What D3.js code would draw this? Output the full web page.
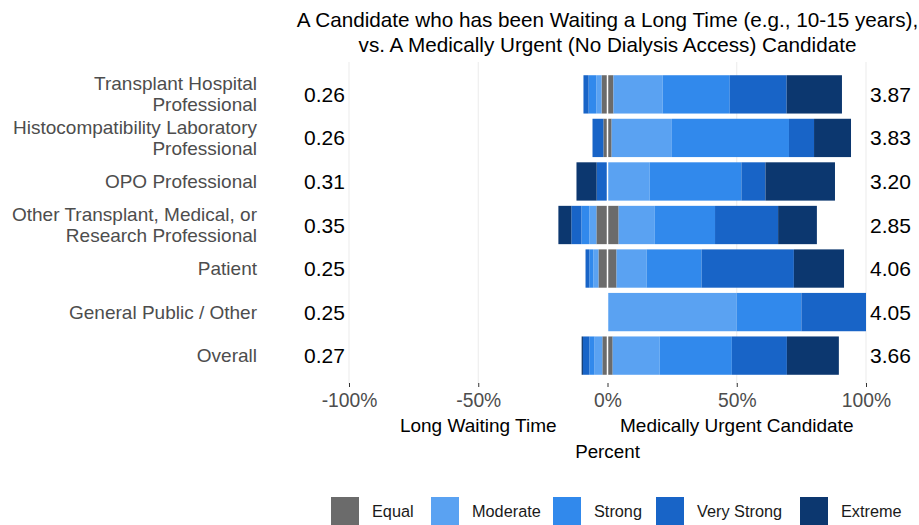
<!DOCTYPE html>
<html>
<head>
<meta charset="utf-8">
<script src="https://cdn.jsdelivr.net/npm/d3@7"></script>
<style>
  body { margin: 0; background: #fff; }
  text { font-family: "Liberation Sans", Arial, sans-serif; }
</style>
</head>
<body>
<div id="chart"></div>
<script>
// groups (top to bottom), two-line labels split with "|"
var groups = ["Transplant Hospital|Professional", "Histocompatibility Laboratory|Professional",
  "OPO Professional", "Other Transplant, Medical, or|Research Professional",
  "Patient", "General Public / Other", "Overall"];
var leftMean = ["0.26", "0.26", "0.31", "0.35", "0.25", "0.25", "0.27"];
var rightMean = ["3.87", "3.83", "3.20", "2.85", "4.06", "4.05", "3.66"];

var levels = ["Equal", "Moderate", "Strong", "Very Strong", "Extreme"];
var colors = ["#6b6b6b", "#5aa2f2", "#3189ec", "#1864c7", "#0c376f"];

// percent answering "Equal" (split half each side of 0)
var equal = [4.6, 3.2, 0, 8.6, 7.0, 0, 4.0];
// percent favouring the long waiting time candidate
var waitModerate = [2.0, 0, 0, 2.7, 2.0, 0, 3.0];
var waitStrong = [3.0, 0, 0, 3.1, 1.5, 0, 2.0];
var waitVeryStrong = [2.0, 4.2, 4.2, 3.9, 1.5, 0, 2.5];
var waitExtreme = [0, 0, 7.8, 5.0, 0, 0, 0.5];
// percent favouring the medically urgent candidate
var urgModerate = [19.0, 23.3, 16.3, 14.0, 11.6, 50, 18.2];
var urgStrong = [26.0, 45.3, 35.5, 23.3, 21.3, 25, 27.9];
var urgVeryStrong = [22.0, 9.7, 9.3, 24.4, 35.7, 25, 21.3];
var urgExtreme = [21.4, 14.3, 26.9, 15.0, 19.4, 0, 20.1];

var xTicks = [-100, -50, 0, 50, 100];

var W = 919, H = 525;
var svg = d3.select("#chart").append("svg")
  .attr("width", W).attr("height", H);

var x = d3.scaleLinear().domain([-100, 100]).range([349, 866]);
var y = d3.scaleBand().domain(d3.range(groups.length)).range([70, 380]).padding(0.12);

// build segments
var segs = [];
groups.forEach(function(g, i) {
  var left = [equal[i] / 2, waitModerate[i], waitStrong[i], waitVeryStrong[i], waitExtreme[i]];
  var right = [equal[i] / 2, urgModerate[i], urgStrong[i], urgVeryStrong[i], urgExtreme[i]];
  var acc = 0;
  left.forEach(function(v, k) {
    if (v > 0) segs.push({row: i, k: k, x0: -(acc + v), x1: -acc});
    acc += v;
  });
  acc = 0;
  right.forEach(function(v, k) {
    if (v > 0) segs.push({row: i, k: k, x0: acc, x1: acc + v});
    acc += v;
  });
});

// gridlines
svg.append("g").selectAll("line")
  .data(xTicks)
  .join("line")
    .attr("x1", d => x(d)).attr("x2", d => x(d))
    .attr("y1", 62).attr("y2", 384)
    .attr("stroke", "#ebebeb").attr("stroke-width", 1);

svg.append("g").selectAll("rect")
  .data(segs)
  .join("rect")
    .attr("x", d => x(d.x0))
    .attr("width", d => x(d.x1) - x(d.x0))
    .attr("y", d => y(d.row))
    .attr("height", y.bandwidth())
    .attr("fill", d => colors[d.k]);

// white line at zero
svg.append("line")
  .attr("x1", x(0)).attr("x2", x(0))
  .attr("y1", 62).attr("y2", 384)
  .attr("stroke", "#fff").attr("stroke-width", 1.5);

// group labels
var lab = svg.append("g").selectAll("text")
  .data(groups)
  .join("text")
    .attr("text-anchor", "end")
    .attr("fill", "#4d4d4d")
    .style("font-size", "19px");
lab.each(function(d, i) {
  var parts = d.split("|");
  var cy = y(i) + y.bandwidth() / 2;
  var t = d3.select(this);
  parts.forEach(function(p, j) {
    t.append("tspan")
      .attr("x", 257)
      .attr("y", cy + 6.5 + (j - (parts.length - 1) / 2) * 21)
      .text(p);
  });
});

// mean values
svg.append("g").selectAll("text")
  .data(leftMean)
  .join("text")
    .attr("x", x(-109.5)).attr("text-anchor", "middle")
    .attr("y", (d, i) => y(i) + y.bandwidth() / 2 + 7.5)
    .style("font-size", "21px")
    .text(d => d);
svg.append("g").selectAll("text")
  .data(rightMean)
  .join("text")
    .attr("x", x(109.5)).attr("text-anchor", "middle")
    .attr("y", (d, i) => y(i) + y.bandwidth() / 2 + 7.5)
    .style("font-size", "21px")
    .text(d => d);

// x axis
var axis = svg.append("g")
  .attr("transform", "translate(0,383)")
  .call(d3.axisBottom(x).tickValues(xTicks).tickSize(4).tickPadding(6).tickFormat(d => d + "%"));
axis.select(".domain").remove();
axis.selectAll(".tick line").attr("stroke", "#333");
axis.selectAll(".tick text").attr("fill", "#4d4d4d").style("font-size", "19.3px")
  .style("font-family", "'Liberation Sans', Arial, sans-serif");

svg.append("text").attr("x", x(-50)).attr("y", 432).attr("text-anchor", "middle")
  .style("font-size", "19px").text("Long Waiting Time");
svg.append("text").attr("x", x(50)).attr("y", 432).attr("text-anchor", "middle")
  .style("font-size", "19px").text("Medically Urgent Candidate");
svg.append("text").attr("x", x(0)).attr("y", 458).attr("text-anchor", "middle")
  .style("font-size", "18.8px").text("Percent");

// title
svg.append("text").attr("x", x(0)).attr("y", 27).attr("text-anchor", "middle")
  .style("font-size", "20.7px").text("A Candidate who has been Waiting a Long Time (e.g., 10-15 years),");
svg.append("text").attr("x", x(0)).attr("y", 52).attr("text-anchor", "middle")
  .style("font-size", "20.7px").text("vs. A Medically Urgent (No Dialysis Access) Candidate");

// legend
var legX = [331, 431, 553, 656, 800];
var leg = svg.append("g").selectAll("g")
  .data(levels)
  .join("g")
    .attr("transform", (d, i) => "translate(" + legX[i] + ",497)");
leg.append("rect").attr("width", 28).attr("height", 28).attr("fill", (d, i) => colors[i]);
leg.append("text").attr("x", 41).attr("y", 20)
  .style("font-size", "16.3px").attr("fill", "#1a1a1a").text(d => d);
</script>
</body>
</html>
